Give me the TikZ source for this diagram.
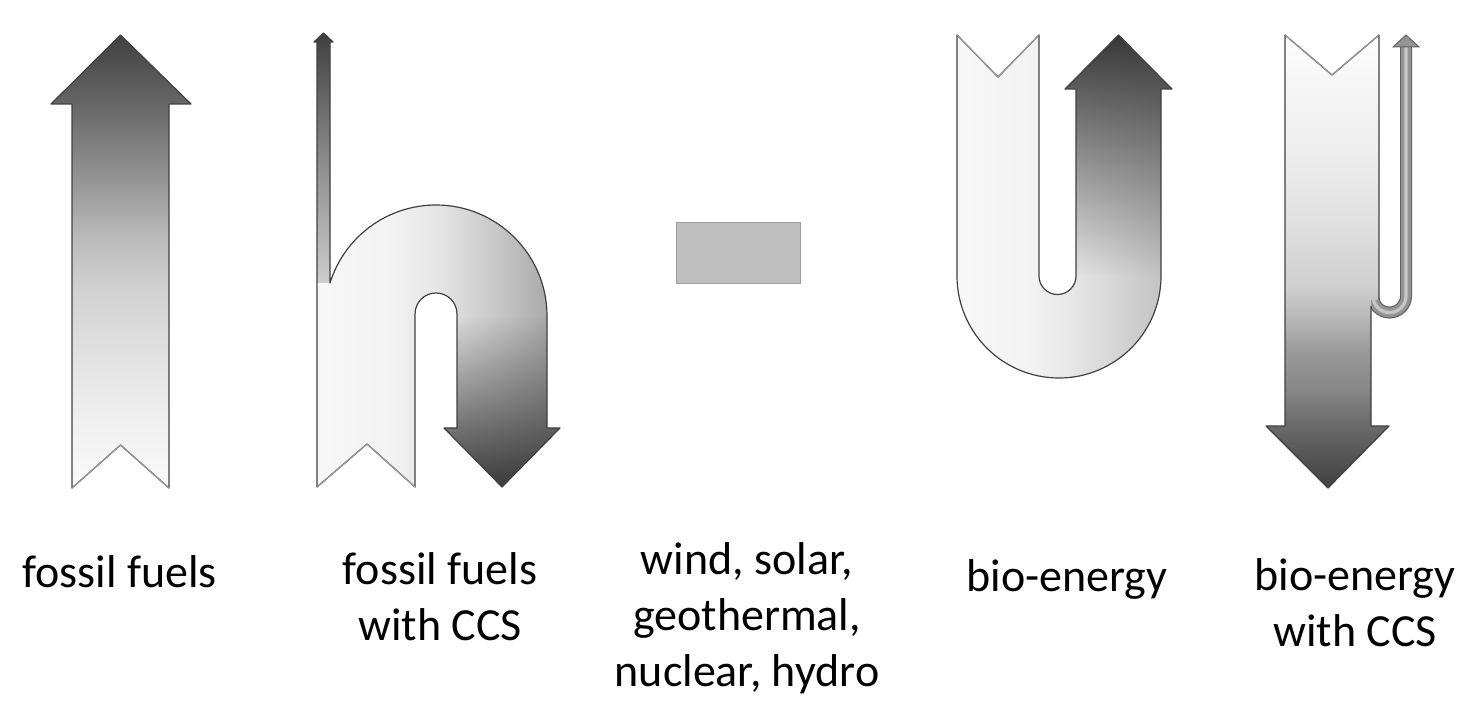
\documentclass[tikz,border=0pt]{standalone}
\usepackage{fontspec}
\setmainfont{Carlito}
\usetikzlibrary{calc,fadings}
\definecolor{EdgeClr}{rgb}{0.25,0.25,0.25}
\definecolor{NotchClr}{rgb}{0.6,0.6,0.6}
\definecolor{BoxClr}{rgb}{0.75,0.75,0.75}
\definecolor{BoxEdgeClr}{rgb}{0.62,0.62,0.62}
\pgfdeclareverticalshading{FossilShade}{100bp}{color(0bp)=(black!2); color(25bp)=(black!2); color(32.5bp)=(black!6); color(40bp)=(black!12); color(47bp)=(black!18); color(52.7bp)=(black!27); color(58.2bp)=(black!40); color(67.5bp)=(black!60); color(75bp)=(black!75); color(100bp)=(black!75)}
\pgfdeclareverticalshading{StemShade}{100bp}{color(0bp)=(black!18); color(25bp)=(black!18); color(50bp)=(black!45); color(75bp)=(black!75); color(100bp)=(black!75)}
\pgfdeclarehorizontalshading{HookShade}{100bp}{color(0bp)=(black!3); color(25bp)=(black!3); color(40bp)=(black!5); color(50bp)=(black!10); color(62bp)=(black!22); color(75bp)=(black!36); color(100bp)=(black!36)}
\pgfdeclarehorizontalshading{BendShade}{100bp}{color(0bp)=(black!3); color(25bp)=(black!3); color(42bp)=(black!5); color(52bp)=(black!10); color(75bp)=(black!25); color(100bp)=(black!25)}
\pgfdeclareverticalshading{BioCcsShade}{100bp}{color(0bp)=(black!75); color(25bp)=(black!75); color(32.5bp)=(black!57); color(36bp)=(black!47); color(40bp)=(black!40); color(43.5bp)=(black!29); color(47.2bp)=(black!19); color(54.6bp)=(black!12); color(62bp)=(black!7); color(75bp)=(black!1); color(100bp)=(black!1)}
\tikzfading[name=DarkDown,top color=transparent!100,bottom color=transparent!5]
\tikzfading[name=DarkUp,top color=transparent!0,bottom color=transparent!100]

\begin{document}
\begin{tikzpicture}[x=0.5pt,y=-0.5pt,
  edge/.style={draw=EdgeClr,line width=0.6pt,line join=round},
  notch/.style={draw=NotchClr,line width=0.6pt},
  lbl/.style={font=\fontsize{23}{28}\selectfont,align=center,inner sep=0pt,anchor=base},
  nullbox/.style={fill=BoxClr,draw=BoxEdgeClr,line width=0.8pt,minimum width=62pt,minimum height=30.5pt,inner sep=0pt}]
\useasboundingbox (0,0) rectangle (1477,706);

% fossil fuels
\shade[shading=FossilShade,edge] (72,488) -- (120.5,445) -- (169,488) -- (169,104) -- (191,104) -- (120.5,35) -- (51,104) -- (72,104) -- cycle;
\draw[notch] (72,488) -- (120.5,445) -- (169,488);

% fossil fuels with CCS
\shade[shading=StemShade] (317,292) -- (317,42) -- (314,42) -- (323.5,33) -- (333,42) -- (330,42) -- (330,292) -- cycle;
\shade[shading=HookShade] (317,487) -- (367,444) -- (415,487) -- (415,314) arc[start angle=180,end angle=360,radius=21] -- (457,428) -- (444,428) -- (502,487) -- (560,428) -- (547,428) -- (547,316) arc[start angle=360,end angle=197.3,radius=111] -- (317,283) -- cycle;
\fill[black!80,path fading=DarkDown] (457,316) -- (457,428) -- (444,428) -- (502,487) -- (560,428) -- (547,428) -- (547,316) -- cycle;
\draw[edge] (317,487) -- (367,444) -- (415,487) -- (415,314) arc[start angle=180,end angle=360,radius=21] -- (457,428) -- (444,428) -- (502,487) -- (560,428) -- (547,428) -- (547,316) arc[start angle=360,end angle=197.3,radius=111] -- (330,42) -- (333,42) -- (323.5,33) -- (314,42) -- (317,42) -- cycle;
\draw[notch] (317,487) -- (367,444) -- (415,487);

% wind, solar, ...
\node[nullbox] (renewbox) at (738.5,253) {};

% bio-energy
\shade[shading=BendShade] (957,35) -- (998,77) -- (1039,35) -- (1039,276) arc[start angle=180,end angle=0,radius=18.5] -- (1076,89) -- (1065,89) -- (1118.5,35) -- (1172,89) -- (1161,89) -- (1161,276) arc[start angle=0,end angle=180,radius=102] -- cycle;
\fill[black!78,path fading=DarkUp] (1076,276) -- (1076,89) -- (1065,89) -- (1118.5,35) -- (1172,89) -- (1161,89) -- (1161,276) -- cycle;
\draw[edge] (957,35) -- (998,77) -- (1039,35) -- (1039,276) arc[start angle=180,end angle=0,radius=18.5] -- (1076,89) -- (1065,89) -- (1118.5,35) -- (1172,89) -- (1161,89) -- (1161,276) arc[start angle=0,end angle=180,radius=102] -- cycle;
\draw[notch] (957,35) -- (998,77) -- (1039,35);

% bio-energy with CCS
\draw[line width=6pt,black!62] (1373,296) arc[start angle=180,end angle=0,radius=16.5] -- (1406,46);
\draw[line width=4.8pt,black!42] (1373,296) arc[start angle=180,end angle=0,radius=16.5] -- (1406,46);
\draw[line width=1.6pt,black!22] (1373,296) arc[start angle=180,end angle=0,radius=16.5] -- (1406,46);
\filldraw[fill=black!42,draw=black!62,line width=0.5pt] (1393,47) -- (1406,35) -- (1419,47) -- cycle;
\shade[shading=BioCcsShade] (1285,35) -- (1332,75) -- (1379,35) -- (1379,300) -- (1371,300) -- (1371,426) -- (1389,426) -- (1328,488) -- (1266,426) -- (1285,426) -- cycle;
\draw[edge] (1379,300) -- (1379,35) -- (1332,75) -- (1285,35) -- (1285,426) -- (1266,426) -- (1328,488) -- (1389,426) -- (1371,426) -- (1371,306);
\draw[notch] (1285,35) -- (1332,75) -- (1379,35);

% labels
\node[lbl] (fossil) at (119.5,587) {fossil fuels};
\node[lbl] (fossilccs) at (440,640) {fossil fuels\\with CCS};
\node[lbl] (renew) at (747,686) {wind, solar,\\geothermal,\\nuclear, hydro};
\node[lbl] (bio) at (1067,591) {bio-energy};
\node[lbl] (bioccs) at (1355,646) {bio-energy\\with CCS};

\end{tikzpicture}
\end{document}
